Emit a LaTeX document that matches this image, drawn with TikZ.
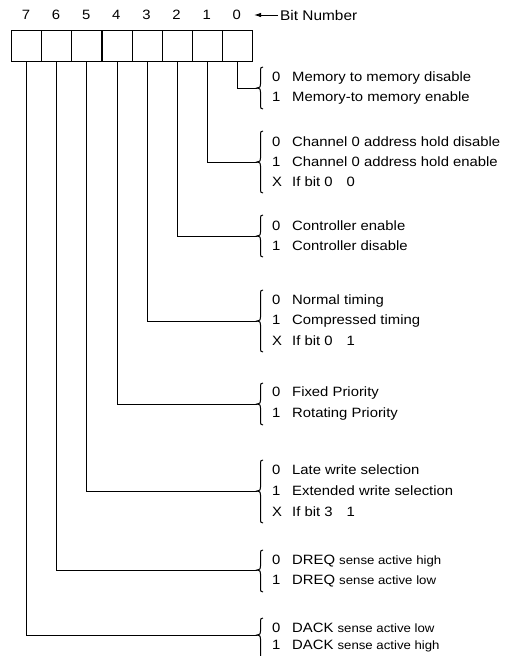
\documentclass[tikz,border=0pt]{standalone}
\usepackage{fontspec}
\setmainfont[FakeStretch=1.1]{Liberation Sans}
\usetikzlibrary{arrows.meta}
% brace: #1 top, #2 tip, #3 bottom
\newcommand{\mybrace}[3]{%
  \draw[brc] (263,#1) .. controls (260.5,#1) and (260.5,{#1+1}) .. (260.5,{#1+4})
    -- (260.5,{#2-4}) .. controls (260.5,{#2-1}) .. (257,#2)
    .. controls (260.5,{#2+1}) .. (260.5,{#2+4})
    -- (260.5,{#3-4}) .. controls (260.5,{#3-1}) and (260.5,#3) .. (263,#3);}
\newcommand{\dg}[1]{\makebox[20pt][l]{#1}}
\newcommand{\sm}[1]{{\fontsize{12}{14}\selectfont #1}}
\begin{document}
\begin{tikzpicture}[x=1pt,y=-1pt,
  cell/.style={draw, line width=1.2pt, minimum width=30.125pt, minimum height=31pt, inner sep=0pt, anchor=north west},
  bitnum/.style={inner sep=0pt, font=\fontsize{13.5}{15}\selectfont},
  desc/.style={anchor=west, inner sep=0pt, font=\fontsize{13.5}{15}\selectfont},
  conn/.style={line width=0.9pt},
  brc/.style={line width=1pt}]
\useasboundingbox (0,0) rectangle (512,656);
% register cells and bit numbers
\foreach \i in {0,...,7} {
  \node[cell] (b\i) at ({11+30.125*(7-\i)},30) {};
  \node[bitnum] (n\i) at ({11+30.125*(7-\i)+15},15) {\i};
}
\node[desc, font=\fontsize{14}{16}\selectfont] (bn) at (280,15) {Bit Number};
\coordinate (arrtip) at (254,15);
\draw[conn,-{Latex[length=7pt,width=4.5pt]}] (bn.west) ++(-2,0) -- (arrtip);
% group 0
\node[desc] (g0a) at (272,78) {\dg{0}Memory to memory disable};
\node[desc] (g0b) at (272,98) {\dg{1}Memory-to memory enable};
\mybrace{67}{88}{109}
\coordinate (t0) at (257,88);
% group 1
\node[desc] (g1a) at (272,142) {\dg{0}Channel 0 address hold disable};
\node[desc] (g1b) at (272,162) {\dg{1}Channel 0 address hold enable};
\node[desc] (g1c) at (272,182) {\dg{X}If bit 0\hspace{14pt}0};
\mybrace{131}{162}{193}
\coordinate (t1) at (257,162);
% group 2
\node[desc] (g2a) at (272,226) {\dg{0}Controller enable};
\node[desc] (g2b) at (272,246) {\dg{1}Controller disable};
\mybrace{215}{236}{257}
\coordinate (t2) at (257,236);
% group 3
\node[desc] (g3a) at (272,301) {\dg{0}Normal timing};
\node[desc] (g3b) at (272,321) {\dg{1}Compressed timing};
\node[desc] (g3c) at (272,341) {\dg{X}If bit 0\hspace{14pt}1};
\mybrace{290}{321}{352}
\coordinate (t3) at (257,321);
% group 4
\node[desc] (g4a) at (272,393) {\dg{0}Fixed Priority};
\node[desc] (g4b) at (272,414) {\dg{1}Rotating Priority};
\mybrace{383}{404}{425}
\coordinate (t4) at (257,404);
% group 5
\node[desc] (g5a) at (272,470) {\dg{0}Late write selection};
\node[desc] (g5b) at (272,491) {\dg{1}Extended write selection};
\node[desc] (g5c) at (272,512) {\dg{X}If bit 3\hspace{14pt}1};
\mybrace{460}{491}{523}
\coordinate (t5) at (257,491);
% group 6
\node[desc] (g6a) at (272,561) {\dg{0}DREQ \sm{sense active high}};
\node[desc] (g6b) at (272,581) {\dg{1}DREQ \sm{sense active low}};
\mybrace{550}{570}{592}
\coordinate (t6) at (257,570);
% group 7
\node[desc] (g7a) at (272,628) {\dg{0}DACK \sm{sense active low}};
\node[desc] (g7b) at (272,646) {\dg{1}DACK \sm{sense active high}};
\mybrace{618}{635}{660}
\coordinate (t7) at (257,635);
% connectors
\foreach \i in {0,...,7} {
  \draw[conn] (b\i.south) |- (t\i);
}
\end{tikzpicture}
\end{document}
